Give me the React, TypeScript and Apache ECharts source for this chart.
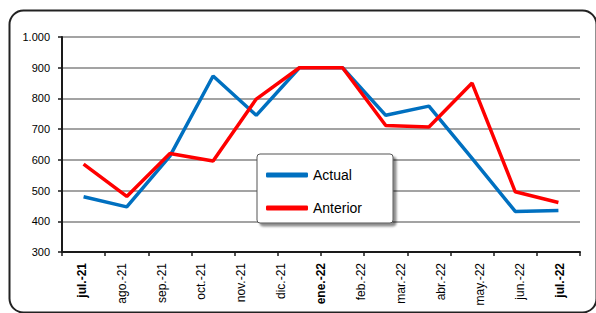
import React, { useEffect, useRef } from "react";
import * as echarts from "echarts";

const labelMonths = [
  "jul.-21", "ago.-21", "sep.-21", "oct.-21", "nov.-21", "dic.-21", "ene.-22",
  "feb.-22", "mar.-22", "abr.-22", "may.-22", "jun.-22", "jul.-22",
];
const boldLabels = ["jul.-21", "ene.-22", "jul.-22"];
const dataCategories = [
  "p1", "p2", "p3", "p4", "p5", "p6", "p7", "p8", "p9", "p10", "p11", "p12",
];
const actual = [480, 447, 612, 873, 745, 900, 900, 745, 775, 605, 432, 435];
const anterior = [586, 481, 621, 596, 798, 900, 900, 712, 707, 850, 496, 461];
const yTicks = { min: 300, max: 1000, interval: 100 };

const FONT = "'Liberation Sans', Arial, sans-serif";

export default function App() {
  const ref = useRef<HTMLDivElement>(null);
  useEffect(() => {
    if (!ref.current) return;
    const chart = echarts.init(ref.current, undefined, { renderer: "svg" });
    chart.setOption({
      animation: false,
      backgroundColor: "#ffffff",
      textStyle: { fontFamily: FONT },
      grid: { left: 62, right: 16, top: 37, bottom: 61, containLabel: false },
      xAxis: [
        {
          type: "category",
          data: dataCategories,
          boundaryGap: true,
          axisLine: { show: true, lineStyle: { color: "#1a1a1a", width: 2 } },
          axisTick: { show: true, length: 4, lineStyle: { color: "#1a1a1a", width: 1.5 } },
          axisLabel: { show: false },
          splitLine: { show: false },
        },
        {
          type: "category",
          data: labelMonths,
          position: "bottom",
          boundaryGap: true,
          axisLine: { show: false },
          axisTick: { show: false },
          splitLine: { show: false },
          axisLabel: {
            rotate: 90,
            margin: 11,
            fontSize: 12,
            color: "#000",
            fontFamily: FONT,
            interval: 0,
            formatter: (v: string) => (boldLabels.includes(v) ? `{b|${v}}` : v),
            rich: { b: { fontWeight: "bold", fontSize: 12, fontFamily: FONT, color: "#000" } },
          },
        },
      ],
      yAxis: {
        type: "value",
        min: yTicks.min,
        max: yTicks.max,
        interval: yTicks.interval,
        axisLine: { show: true, lineStyle: { color: "#1a1a1a", width: 2 } },
        axisTick: { show: true, length: 4, lineStyle: { color: "#1a1a1a", width: 1.5 } },
        axisLabel: {
          margin: 12,
          fontSize: 11,
          color: "#000",
          fontFamily: FONT,
          formatter: (v: number) => (v >= 1000 ? v.toLocaleString("de-DE") : String(v)),
        },
        splitLine: { show: true, lineStyle: { color: "#a3a3a3", width: 2 } },
      },
      legend: {
        orient: "vertical",
        left: 257,
        top: 154,
        padding: [14, 31, 8, 9],
        itemGap: 19,
        itemWidth: 42,
        itemHeight: 5,
        itemTextGap: 8,
        icon: "roundRect",
        backgroundColor: "#ffffff",
        borderColor: "#555",
        borderWidth: 1,
        borderRadius: 3,
        shadowColor: "rgba(0,0,0,0.45)",
        shadowBlur: 2,
        shadowOffsetX: 3,
        shadowOffsetY: 3,
        textStyle: { fontSize: 14, color: "#000", fontFamily: FONT },
        data: ["Actual", "Anterior"],
      },
      series: [
        {
          name: "Actual",
          type: "line",
          data: actual,
          symbol: "none",
          lineStyle: { color: "#0070C0", width: 3.5 },
          itemStyle: { color: "#0070C0" },
          z: 3,
        },
        {
          name: "Anterior",
          type: "line",
          data: anterior,
          symbol: "none",
          lineStyle: { color: "#FF0000", width: 3.5 },
          itemStyle: { color: "#FF0000" },
          z: 4,
        },
      ],
      graphic: [
        {
          type: "rect",
          left: 7,
          top: 8,
          shape: { width: 587, height: 302, r: 14 },
          style: { fill: "none", stroke: "#222", lineWidth: 2 },
          silent: true,
          z: 100,
        },
      ],
    });
    return () => chart.dispose();
  }, []);
  return (
    <div
      ref={ref}
      style={{ position: "absolute", left: 0, top: 0, width: 596, height: 313 }}
    />
  );
}
